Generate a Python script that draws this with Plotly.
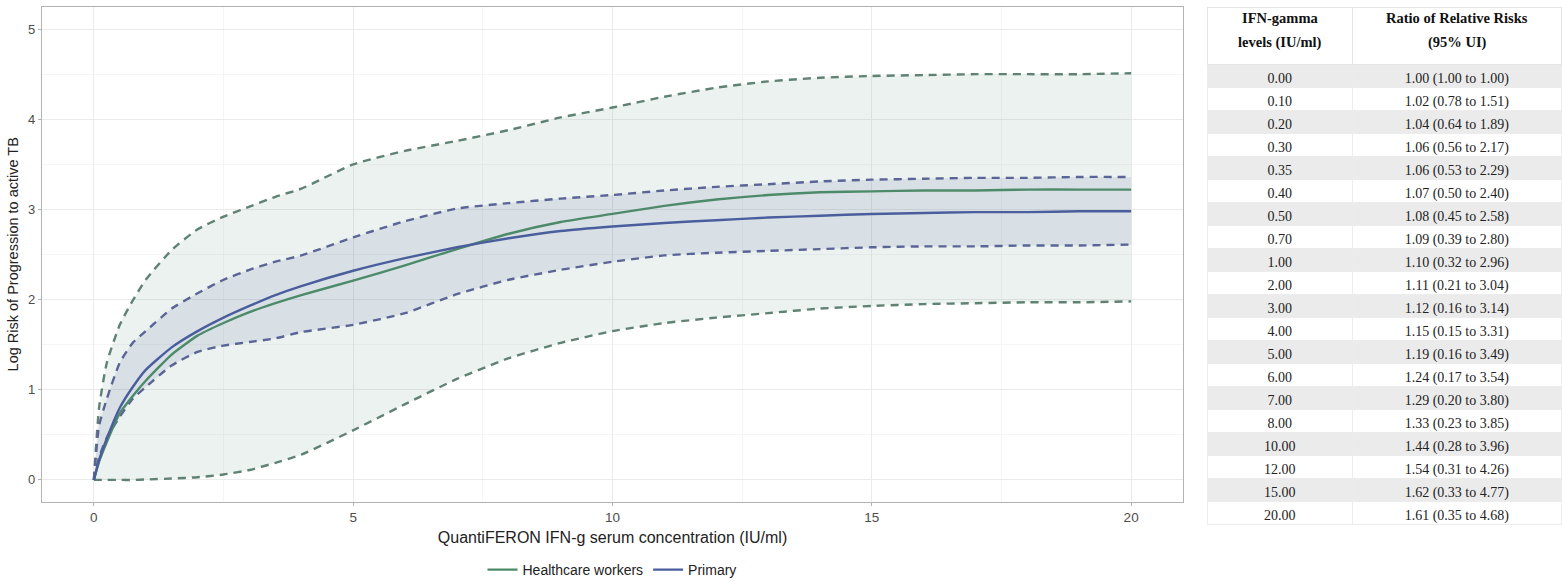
import plotly.graph_objects as go

# ---- data ----
x_vals = [0, 0.1, 0.25, 0.5, 0.75, 1, 1.5, 2, 2.5, 3, 3.5, 4, 5, 6, 7, 8, 9, 10,
          11, 12, 13, 14, 15, 16, 17, 18, 19, 20]

hcw_mean = [0, 0.2, 0.42, 0.74, 0.93, 1.1, 1.39, 1.6, 1.74, 1.86, 1.96, 2.05, 2.21, 2.38,
            2.56, 2.73, 2.86, 2.95, 3.04, 3.11, 3.16, 3.19, 3.2, 3.21, 3.21, 3.22, 3.22, 3.22]
hcw_lower = [0, 0, 0, 0, 0, 0.005, 0.015, 0.03, 0.06, 0.11, 0.19, 0.28, 0.55, 0.84,
             1.12, 1.35, 1.52, 1.65, 1.74, 1.8, 1.85, 1.9, 1.93, 1.95, 1.96, 1.97, 1.97, 1.98]
hcw_upper = [0, 0.8, 1.3, 1.72, 1.99, 2.22, 2.55, 2.78, 2.92, 3.03, 3.14, 3.23, 3.5, 3.65,
             3.76, 3.88, 4.02, 4.13, 4.25, 4.35, 4.42, 4.46, 4.48, 4.49, 4.5, 4.5, 4.5, 4.51]

pri_mean = [0, 0.22, 0.46, 0.8, 1.03, 1.22, 1.47, 1.65, 1.8, 1.93, 2.05, 2.15, 2.32, 2.46,
            2.58, 2.68, 2.76, 2.81, 2.85, 2.88, 2.91, 2.93, 2.95, 2.96, 2.97, 2.97, 2.98, 2.98]
pri_lower = [0, 0.25, 0.47, 0.7, 0.9, 1.03, 1.27, 1.42, 1.49, 1.53, 1.57, 1.64, 1.72, 1.85,
             2.06, 2.22, 2.33, 2.42, 2.49, 2.52, 2.54, 2.56, 2.58, 2.59, 2.59, 2.6, 2.6, 2.61]
pri_upper = [0, 0.6, 0.9, 1.3, 1.52, 1.65, 1.9, 2.07, 2.22, 2.33, 2.42, 2.49, 2.69, 2.87,
             3.01, 3.07, 3.12, 3.16, 3.21, 3.25, 3.28, 3.31, 3.33, 3.34, 3.35, 3.35, 3.36, 3.36]

ifn_levels = ["0.00", "0.10", "0.20", "0.30", "0.35", "0.40", "0.50", "0.70", "1.00", "2.00",
              "3.00", "4.00", "5.00", "6.00", "7.00", "8.00", "10.00", "12.00", "15.00", "20.00"]
ratio_rr = ["1.00 (1.00 to 1.00)", "1.02 (0.78 to 1.51)", "1.04 (0.64 to 1.89)",
            "1.06 (0.56 to 2.17)", "1.06 (0.53 to 2.29)", "1.07 (0.50 to 2.40)",
            "1.08 (0.45 to 2.58)", "1.09 (0.39 to 2.80)", "1.10 (0.32 to 2.96)",
            "1.11 (0.21 to 3.04)", "1.12 (0.16 to 3.14)", "1.15 (0.15 to 3.31)",
            "1.19 (0.16 to 3.49)", "1.24 (0.17 to 3.54)", "1.29 (0.20 to 3.80)",
            "1.33 (0.23 to 3.85)", "1.44 (0.28 to 3.96)", "1.54 (0.31 to 4.26)",
            "1.62 (0.33 to 4.77)", "1.61 (0.35 to 4.68)"]
header_col1 = ["IFN-gamma", "levels (IU/ml)"]
header_col2 = ["Ratio of Relative Risks", "(95% UI)"]

# ---- styling ----
G_LINE = "#4d8a6a"
G_DASH = "#5f8273"
G_FILL = "rgba(95,150,125,0.12)"
B_LINE = "#4a5e9e"
B_DASH = "#5b6496"
B_FILL = "rgba(74,95,160,0.12)"
SHAPE = dict(shape="spline", smoothing=0.5)
DASH = "8px,6px"
SERIF = "Liberation Serif, Times New Roman, serif"

fig = go.Figure()

# HCW band
fig.add_trace(go.Scatter(x=x_vals, y=hcw_lower, mode="lines",
                         line=dict(color=G_DASH, width=2.4, dash=DASH, **SHAPE),
                         showlegend=False, hoverinfo="skip"))
fig.add_trace(go.Scatter(x=x_vals, y=hcw_upper, mode="lines", fill="tonexty", fillcolor=G_FILL,
                         line=dict(color=G_DASH, width=2.4, dash=DASH, **SHAPE),
                         showlegend=False, hoverinfo="skip"))
# Primary band
fig.add_trace(go.Scatter(x=x_vals, y=pri_lower, mode="lines",
                         line=dict(color=B_DASH, width=2.4, dash=DASH, **SHAPE),
                         showlegend=False, hoverinfo="skip"))
fig.add_trace(go.Scatter(x=x_vals, y=pri_upper, mode="lines", fill="tonexty", fillcolor=B_FILL,
                         line=dict(color=B_DASH, width=2.4, dash=DASH, **SHAPE),
                         showlegend=False, hoverinfo="skip"))
# means
fig.add_trace(go.Scatter(x=x_vals, y=hcw_mean, mode="lines", name="Healthcare workers",
                         line=dict(color=G_LINE, width=2.4, **SHAPE)))
fig.add_trace(go.Scatter(x=x_vals, y=pri_mean, mode="lines", name="Primary",
                         line=dict(color=B_LINE, width=2.4, **SHAPE)))

PLOT_W = 1520.0
PLOT_H = 579.0


def px_x(px):
    return (px - 42) / PLOT_W


def px_y(py):
    return (586 - py) / PLOT_H


# table
row_fill = ["#ebebeb" if i % 2 == 0 else "white" for i in range(len(ifn_levels))]
fig.add_trace(go.Table(
    domain=dict(x=[px_x(1207), 1.0], y=[0.0, 1.0]),
    columnwidth=[146, 209],
    header=dict(values=["", ""], align="center", height=57,
                fill=dict(color="white"), line=dict(color="#e4e4e4", width=1),
                font=dict(family=SERIF, size=14, color="#111")),
    cells=dict(values=[ifn_levels, ratio_rr], align="center", height=23,
               fill=dict(color=[row_fill, row_fill]), line=dict(color="#ececec", width=1),
               font=dict(family=SERIF, size=14, color="#222")),
))

annotations = []
for col_x, lines in ((1280, header_col1), (1457, header_col2)):
    for line_y, txt in zip((18, 43), lines):
        annotations.append(dict(text="<b>" + txt + "</b>", x=px_x(col_x), y=px_y(line_y),
                                xref="paper", yref="paper", xanchor="center", yanchor="middle",
                                showarrow=False, font=dict(family=SERIF, size=14.5, color="#111")))

fig.update_layout(
    width=1562, height=586,
    margin=dict(l=42, r=0, t=7, b=0),
    paper_bgcolor="white", plot_bgcolor="white",
    font=dict(family="Liberation Sans, Arial, sans-serif", color="#222"),
    annotations=annotations,
    showlegend=True,
    legend=dict(orientation="h", traceorder="normal", x=px_x(612), xanchor="center",
                y=px_y(574), yanchor="middle",
                font=dict(size=14, color="#222"), itemwidth=30, bgcolor="rgba(0,0,0,0)"),
    xaxis=dict(domain=[0, px_x(1183)], range=[-1.0, 21.0],
               tickvals=[0, 5, 10, 15, 20], ticks="outside", ticklen=3, tickcolor="#b3b3b3",
               tickfont=dict(size=13.5, color="#4d4d4d"),
               showgrid=True, gridcolor="#ebebeb", gridwidth=1,
               minor=dict(tickvals=[2.5, 7.5, 12.5, 17.5], showgrid=True, gridcolor="#f5f5f5", gridwidth=1),
               showline=True, linecolor="#b3b3b3", linewidth=1.3, mirror=True, zeroline=False,
               title=dict(text="QuantiFERON IFN-g serum concentration (IU/ml)",
                          font=dict(size=16, color="#222"), standoff=7),
               automargin=False),
    yaxis=dict(domain=[px_y(505), 1.0], range=[-0.24, 5.245],
               tickvals=[0, 1, 2, 3, 4, 5], ticks="outside", ticklen=3, tickcolor="#b3b3b3",
               tickfont=dict(size=13, color="#4d4d4d"),
               showgrid=True, gridcolor="#ebebeb", gridwidth=1,
               minor=dict(tickvals=[0.5, 1.5, 2.5, 3.5, 4.5], showgrid=True, gridcolor="#f5f5f5", gridwidth=1),
               showline=True, linecolor="#b3b3b3", linewidth=1.3, mirror=True, zeroline=False,
               title=dict(text="Log Risk of Progression to active TB",
                          font=dict(size=14.5, color="#222"), standoff=5),
               automargin=False),
)

fig.write_html("out.html")
